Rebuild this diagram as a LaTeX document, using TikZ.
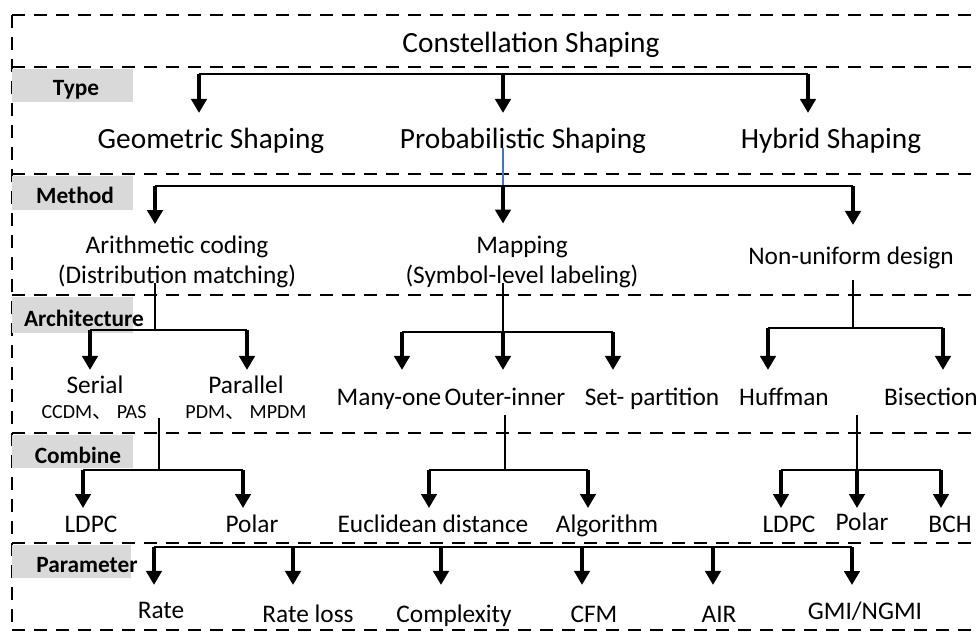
\documentclass[tikz,border=0pt]{standalone}
\usepackage{fontspec}
\setmainfont{Carlito}
\newfontfamily\cjkfont{Noto Sans CJK SC}
\usetikzlibrary{arrows.meta}
\definecolor{labgray}{RGB}{217,217,217}
\definecolor{stemblue}{RGB}{68,114,196}
\begin{document}
\begin{tikzpicture}[x=0.75pt,y=-0.75pt,
  sep/.style={line width=1.5pt, dash pattern=on 10pt off 6.5pt},
  brk/.style={line width=1.1pt},
  arr/.style={line width=3pt, -{Triangle[length=10.5pt,width=11.5pt]}},
  base/.style={inner sep=0pt, outer sep=0pt, anchor=south, text depth=0pt},
  big/.style={base, font=\fontsize{22}{26}\selectfont, text height=15.4pt},
  mid/.style={base, font=\fontsize{19}{22.5}\selectfont},
  one/.style={mid, text height=13.3pt},
  small/.style={base, font=\fontsize{15}{18}\selectfont},
  tag/.style={base, font=\bfseries\fontsize{17.5}{20}\selectfont},
]
\useasboundingbox (0,0) rectangle (979,635);

% dashed frame and row separators
\draw[sep] (12,15) -- (12,630);
\foreach \yy in {15,67,174,295,433,543,630}
  \draw[sep] (12,\yy) -- (974,\yy);

% grey row tags
\fill[labgray] (12,69) rectangle (133,102);
\fill[labgray] (12,176) rectangle (133,210);
\fill[labgray] (12,297) rectangle (133,333);
\fill[labgray] (12,435) rectangle (133,468);
\fill[labgray] (12,545) rectangle (131,578);
\node[tag] (tType)   at (76,96)  {Type};
\node[tag] (tMethod) at (75,203) {Method};
\node[tag] (tArch)   at (84,326) {Architecture};
\node[tag] (tComb)   at (78,463) {Combine};
\node[tag] (tPar)    at (87,572) {Parameter};

% texts
\node[big] (title) at (531,53) {Constellation Shaping};
\node[big] (gs) at (211,148) {Geometric Shaping};
\node[big] (ps) at (523,148) {Probabilistic Shaping};
\node[big] (hs) at (831,148) {Hybrid Shaping};

\node[mid, align=center] (ac) at (177,283) {Arithmetic coding\\(Distribution matching)};
\node[mid, align=center] (mp) at (522,283) {Mapping\\(Symbol-level labeling)};
\node[one] (nu) at (851,264) {Non-uniform design};

\node[one] (se) at (95,393) {Serial};
\node[small] (se2) at (94,418) {CCDM{\cjkfont 、} PAS};
\node[one] (pa) at (246,393) {Parallel};
\node[small] (pa2) at (246,418) {PDM{\cjkfont 、} MPDM};
\node[one] (mo) at (389,405) {Many-one};
\node[one] (oi) at (505,405) {Outer-inner};
\node[one] (sp) at (652,405) {Set- partition};
\node[one] (hu) at (784,405) {Huffman};
\node[one] (bi) at (931,405) {Bisection};

\node[one] (l1) at (91,532) {LDPC};
\node[one] (p1) at (252,532) {Polar};
\node[one] (ed) at (433,532) {Euclidean distance};
\node[one] (al) at (607,532) {Algorithm};
\node[one] (l2) at (789,532) {LDPC};
\node[one] (p2) at (862,530) {Polar};
\node[one] (bc) at (950,532) {BCH};

\node[one] (r1) at (161,618) {Rate};
\node[one] (r2) at (308,622) {Rate loss};
\node[one] (cx) at (454,622) {Complexity};
\node[one] (cf) at (594,622) {CFM};
\node[one] (ai) at (719,622) {AIR};
\node[one] (gm) at (865,619) {GMI/NGMI};

% bracket junctions
\coordinate (t1) at (199,74);  \coordinate (t2) at (503,74);  \coordinate (t3) at (808,74);
\coordinate (m1) at (155,186); \coordinate (m2) at (503,186); \coordinate (m3) at (853,186);
\coordinate (a0) at (155,330); \coordinate (a1) at (90,330);  \coordinate (a2) at (247,330);
\coordinate (b0) at (503,332); \coordinate (b1) at (402,332); \coordinate (b2) at (613,332);
\coordinate (c0) at (853,328); \coordinate (c1) at (768,328); \coordinate (c2) at (943,328);
\coordinate (d0) at (159,470); \coordinate (d1) at (83,470);  \coordinate (d2) at (243,470);
\coordinate (e0) at (505,470); \coordinate (e1) at (429,470); \coordinate (e2) at (588,470);
\coordinate (f0) at (857,470); \coordinate (f1) at (781,470); \coordinate (f2) at (941,470);
\coordinate (g1) at (154,547); \coordinate (g2) at (293,547); \coordinate (g3) at (441,547);
\coordinate (g4) at (582,547); \coordinate (g5) at (713,547); \coordinate (g6) at (852,547);

% type
\draw[brk] (t1) -- (t3);
\draw[arr, shorten >=10.9pt] (t1) -- (t1 |- gs.north);
\draw[arr, shorten >=10.9pt] (t2) -- (t2 |- ps.north);
\draw[arr, shorten >=10.9pt] (t3) -- (t3 |- hs.north);

% method
\draw[stemblue, line width=0.8pt] (m2 |- ps.south) -- (m2);
\draw[brk] (m1) -- (m3);
\draw[arr, shorten >=8.5pt] (m1) -- (m1 |- ac.north);
\draw[arr, shorten >=9pt]   (m2) -- (m2 |- mp.north);
\draw[arr, shorten >=16pt]  (m3) -- (m3 |- nu.north);

% architecture
\draw[brk] (a0 |- ac.south) -- (a0);
\draw[brk] (a1) -- (a2);
\draw[arr, shorten >=4pt] (a1) -- (a1 |- se.north);
\draw[arr, shorten >=4pt] (a2) -- (a2 |- pa.north);

\draw[brk] (b0 |- mp.south) -- (b0);
\draw[brk] (b1) -- (b2);
\draw[arr, shorten >=13pt] (b1) -- (b1 |- mo.north);
\draw[arr, shorten >=13pt] (b0) -- (b0 |- oi.north);
\draw[arr, shorten >=13pt] (b2) -- (b2 |- sp.north);

\draw[brk, shorten <=12pt] (c0 |- nu.south) -- (c0);
\draw[brk] (c1) -- (c2);
\draw[arr, shorten >=13pt] (c1) -- (c1 |- hu.north);
\draw[arr, shorten >=13pt] (c2) -- (c2 |- bi.north);

% combine
\draw[brk] (d0 |- se2.south) -- (d0);
\draw[brk] (d1) -- (d2);
\draw[arr, shorten >=4.7pt] (d1) -- (d1 |- l1.north);
\draw[arr, shorten >=4.7pt] (d2) -- (d2 |- p1.north);

\draw[brk, shorten <=7.5pt] (e0 |- oi.south) -- (e0);
\draw[brk] (e1) -- (e2);
\draw[arr, shorten >=4.7pt] (e1) -- (e1 |- ed.north);
\draw[arr, shorten >=4.7pt] (e2) -- (e2 |- al.north);

\draw[brk, shorten <=7.5pt] (f0 |- hu.south) -- (f0);
\draw[brk] (f1) -- (f2);
\draw[arr, shorten >=4.7pt] (f1) -- (f1 |- l2.north);
\draw[arr, shorten >=3.2pt] (f0) -- (f0 |- p2.north);
\draw[arr, shorten >=4.7pt] (f2) -- (f2 |- bc.north);

% parameter
\draw[brk] (g1) -- (g6);
\draw[arr, shorten >=11.5pt] (g1) -- (g1 |- r1.north);
\draw[arr, shorten >=14.5pt] (g2) -- (g2 |- r2.north);
\draw[arr, shorten >=14.5pt] (g3) -- (g3 |- cx.north);
\draw[arr, shorten >=14.5pt] (g4) -- (g4 |- cf.north);
\draw[arr, shorten >=14.5pt] (g5) -- (g5 |- ai.north);
\draw[arr, shorten >=12.2pt] (g6) -- (g6 |- gm.north);
\end{tikzpicture}
\end{document}
